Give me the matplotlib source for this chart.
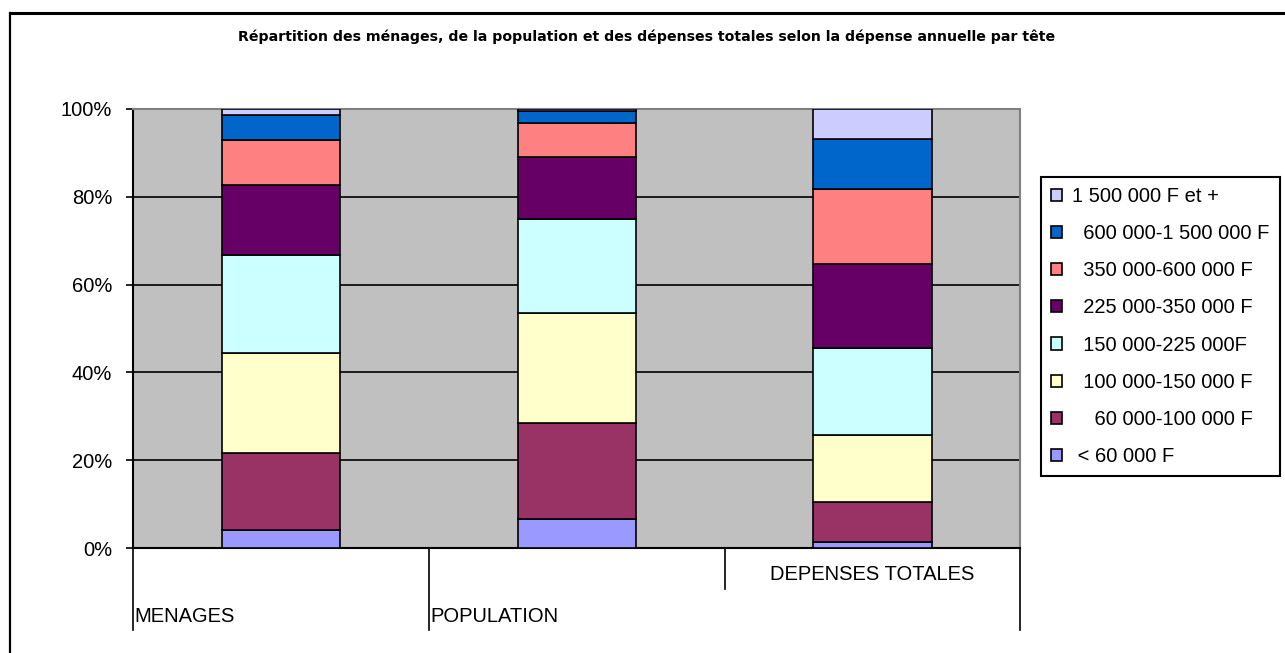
import numpy as np
import matplotlib
matplotlib.use('Agg')
import matplotlib.pyplot as plt
from matplotlib.lines import Line2D
import matplotlib.transforms as mtransforms

plt.rcParams['font.family'] = ['Liberation Sans', 'DejaVu Sans']

# data (share in %, bottom class first)
categories = ['MENAGES', 'POPULATION', 'DEPENSES TOTALES']
lt60 = [4.2, 6.5, 1.4]
c60_100 = [17.4, 21.9, 9.1]
c100_150 = [22.8, 25.1, 15.2]
c150_225 = [22.3, 21.4, 19.9]
c225_350 = [15.9, 14.1, 19.1]
c350_600 = [10.4, 7.7, 17.0]
c600_1500 = [5.6, 2.8, 11.4]
c1500p = [1.4, 0.5, 6.9]
series = [lt60, c60_100, c100_150, c150_225, c225_350, c350_600, c600_1500, c1500p]
labels = [' < 60 000 F', '    60 000-100 000 F', '  100 000-150 000 F', '  150 000-225 000F',
          '  225 000-350 000 F', '  350 000-600 000 F', '  600 000-1 500 000 F', '1 500 000 F et +']
colors = ['#9999FF', '#993366', '#FFFFCC', '#CCFFFF', '#660066', '#FF8080', '#0066CC', '#CCCCFF']
yticks = [0, 20, 40, 60, 80, 100]

W, H = 1285, 653
fig = plt.figure(figsize=(W / 100, H / 100), dpi=100)
ax = fig.add_axes([133 / W, 1 - 548 / H, (1020.5 - 133) / W, (548 - 109) / H])
ax.set_facecolor('#C0C0C0')

x = np.arange(len(categories))
bottom = np.zeros(len(categories))
handles = []
for vals, col, lab in zip(series, colors, labels):
    b = ax.bar(x, vals, 0.4, bottom=bottom, color=col, edgecolor='black', linewidth=1.2,
               label=lab, zorder=3)
    bottom += np.array(vals)
    handles.append(b)

ax.set_xlim(-0.5, 2.5)
ax.set_ylim(0, 100)
ax.set_yticks(yticks)
ax.set_yticklabels(['%d%%' % v for v in yticks], fontsize=14.5)
ax.tick_params(axis='y', length=5, width=1.2, pad=10, direction='out')
ax.set_xticks([])
ax.yaxis.grid(True, color='black', linewidth=1.2, zorder=1)
ax.set_axisbelow(True)
for s in ['top', 'right']:
    ax.spines[s].set_color('#808080')
    ax.spines[s].set_linewidth(1.5)
for s in ['left', 'bottom']:
    ax.spines[s].set_color('black')
    ax.spines[s].set_linewidth(1.5)

# multi-level category labels below the axis
trans = mtransforms.blended_transform_factory(ax.transData, ax.transAxes)
long_d = -(630 - 548) / (548 - 109)
short_d = -(589 - 548) / (548 - 109)
for xd, d in zip([-0.5, 0.5, 1.5, 2.5], [long_d, long_d, short_d, long_d]):
    ax.add_line(Line2D([xd, xd], [0, d], transform=trans, color='black', lw=1.2, clip_on=False))
ax.text(-0.495, -(616 - 548) / 439, categories[0], transform=trans, ha='left', va='center', fontsize=14.5)
ax.text(0.505, -(616 - 548) / 439, categories[1], transform=trans, ha='left', va='center', fontsize=14.5)
ax.text(2.0, -(575 - 548) / 439, categories[2], transform=trans, ha='center', va='center', fontsize=14.5)

fig.text(647 / W, 1 - 37 / H,
         'Répartition des ménages, de la population et des dépenses totales selon la dépense annuelle par tête',
         ha='center', va='center', fontsize=10.2, fontweight='bold', family='DejaVu Sans')

leg = fig.legend(handles[::-1], labels[::-1], loc='upper left',
                 bbox_to_anchor=(1041 / W, 1 - 177 / H), bbox_transform=fig.transFigure,
                 borderaxespad=0, fontsize=14.5, labelspacing=0.9, handlelength=0.55,
                 handleheight=0.55, handletextpad=0.5, borderpad=0.5, fancybox=False,
                 framealpha=1, edgecolor='black')
leg.get_frame().set_linewidth(1.5)

# outer chart frame
fig.add_artist(Line2D([10 / W, 1], [1 - 12.5 / H, 1 - 12.5 / H], transform=fig.transFigure, color='black', lw=2.2))
fig.add_artist(Line2D([10 / W, 10 / W], [0, 1 - 12.5 / H], transform=fig.transFigure, color='black', lw=1.6))

fig.savefig('out.png', dpi=100)
